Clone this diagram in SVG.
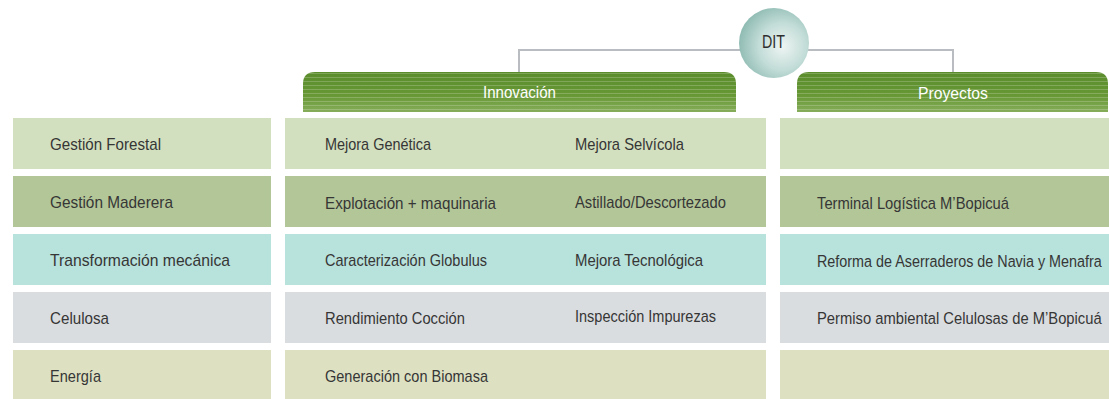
<svg xmlns="http://www.w3.org/2000/svg" width="1109" height="399" viewBox="0 0 1109 399">
<style>
.t{font-family:"Liberation Sans",Arial,sans-serif;font-size:17px;fill:#363636}
.h{font-family:"Liberation Sans",Arial,sans-serif;font-size:17px;fill:#ffffff}
.r1{fill:#d3e0bf}.r2{fill:#b3c698}.r3{fill:#b8e2dc}.r4{fill:#dadde0}.r5{fill:#dde1c2}
.conn{fill:none;stroke:#b9bdc1;stroke-width:2}
</style>
<defs>
<linearGradient id="hg" x1="0" y1="0" x2="0" y2="1">
<stop offset="0" stop-color="#5b8c2c"/>
<stop offset="0.6" stop-color="#689836"/>
<stop offset="1" stop-color="#86ad5a"/>
</linearGradient>
<pattern id="stripes" width="40" height="4" patternUnits="userSpaceOnUse">
<rect x="0" y="1" width="40" height="1" fill="#ffffff" fill-opacity="0.2"/>
</pattern>
<radialGradient id="cg" cx="0.62" cy="0.55" r="0.62">
<stop offset="0" stop-color="#eef5f3"/>
<stop offset="0.55" stop-color="#c2dcd7"/>
<stop offset="1" stop-color="#90bcb4"/>
</radialGradient>
</defs>

<g id="connectors">
<path class="conn" d="M519,72 V50 H953 V72"/>
</g>

<g id="dit">
<circle cx="774" cy="43" r="35" fill="url(#cg)"/>
<text class="t" x="762" y="48" textLength="23" lengthAdjust="spacingAndGlyphs" style="font-size:19px;fill:#2e2e2e">DIT</text>
</g>

<g id="innovacion">
<path d="M303,112 V84 Q303,72 315,72 H724 Q736,72 736,84 V112 Z" fill="url(#hg)"/>
<path d="M303,112 V84 Q303,72 315,72 H724 Q736,72 736,84 V112 Z" fill="url(#stripes)"/>
<text class="h" x="483" y="98" textLength="73" lengthAdjust="spacingAndGlyphs">Innovación</text>
</g>

<g id="proyectos">
<path d="M797,112 V84 Q797,72 809,72 H1096 Q1108,72 1108,84 V112 Z" fill="url(#hg)"/>
<path d="M797,112 V84 Q797,72 809,72 H1096 Q1108,72 1108,84 V112 Z" fill="url(#stripes)"/>
<text class="h" x="918" y="99" textLength="70" lengthAdjust="spacingAndGlyphs">Proyectos</text>
</g>

<g id="gestion-forestal">
<rect class="r1" x="13" y="118" width="258" height="51"/>
<text class="t" x="50" y="150" textLength="111" lengthAdjust="spacingAndGlyphs">Gestión Forestal</text>
</g>
<g id="gestion-maderera">
<rect class="r2" x="13" y="176" width="258" height="51"/>
<text class="t" x="50" y="208" textLength="123" lengthAdjust="spacingAndGlyphs">Gestión Maderera</text>
</g>
<g id="transformacion">
<rect class="r3" x="13" y="234" width="258" height="51"/>
<text class="t" x="50" y="266" textLength="180" lengthAdjust="spacingAndGlyphs">Transformación mecánica</text>
</g>
<g id="celulosa">
<rect class="r4" x="13" y="292" width="258" height="51"/>
<text class="t" x="50" y="324" textLength="59" lengthAdjust="spacingAndGlyphs">Celulosa</text>
</g>
<g id="energia">
<rect class="r5" x="13" y="350" width="258" height="51"/>
<text class="t" x="50" y="382" textLength="51" lengthAdjust="spacingAndGlyphs">Energía</text>
</g>

<g id="innov-forestal">
<rect class="r1" x="285" y="118" width="481" height="51"/>
<text class="t" x="325" y="150" textLength="106" lengthAdjust="spacingAndGlyphs">Mejora Genética</text>
<text class="t" x="575" y="150" textLength="109" lengthAdjust="spacingAndGlyphs">Mejora Selvícola</text>
</g>
<g id="innov-maderera">
<rect class="r2" x="285" y="176" width="481" height="51"/>
<text class="t" x="325" y="209" textLength="171" lengthAdjust="spacingAndGlyphs">Explotación + maquinaria</text>
<text class="t" x="575" y="208" textLength="151" lengthAdjust="spacingAndGlyphs">Astillado/Descortezado</text>
</g>
<g id="innov-transformacion">
<rect class="r3" x="285" y="234" width="481" height="51"/>
<text class="t" x="325" y="266" textLength="162" lengthAdjust="spacingAndGlyphs">Caracterización Globulus</text>
<text class="t" x="575" y="266" textLength="128" lengthAdjust="spacingAndGlyphs">Mejora Tecnológica</text>
</g>
<g id="innov-celulosa">
<rect class="r4" x="285" y="292" width="481" height="51"/>
<text class="t" x="325" y="324" textLength="140" lengthAdjust="spacingAndGlyphs">Rendimiento Cocción</text>
<text class="t" x="575" y="322" textLength="141" lengthAdjust="spacingAndGlyphs">Inspección Impurezas</text>
</g>
<g id="innov-energia">
<rect class="r5" x="285" y="350" width="481" height="51"/>
<text class="t" x="325" y="382" textLength="163" lengthAdjust="spacingAndGlyphs">Generación con Biomasa</text>
</g>

<g id="proy-forestal">
<rect class="r1" x="780" y="118" width="329" height="51"/>
</g>
<g id="proy-maderera">
<rect class="r2" x="780" y="176" width="329" height="51"/>
<text class="t" x="817" y="209" textLength="192" lengthAdjust="spacingAndGlyphs">Terminal Logística M’Bopicuá</text>
</g>
<g id="proy-transformacion">
<rect class="r3" x="780" y="234" width="329" height="51"/>
<text class="t" transform="translate(817,267) scale(0.84,1)" x="0" y="0" textLength="339" lengthAdjust="spacingAndGlyphs">Reforma de Aserraderos de Navia y Menafra</text>
</g>
<g id="proy-celulosa">
<rect class="r4" x="780" y="292" width="329" height="51"/>
<text class="t" transform="translate(817,324) scale(0.86,1)" x="0" y="0" textLength="331" lengthAdjust="spacingAndGlyphs">Permiso ambiental Celulosas de M’Bopicuá</text>
</g>
<g id="proy-energia">
<rect class="r5" x="780" y="350" width="329" height="51"/>
</g>
</svg>
